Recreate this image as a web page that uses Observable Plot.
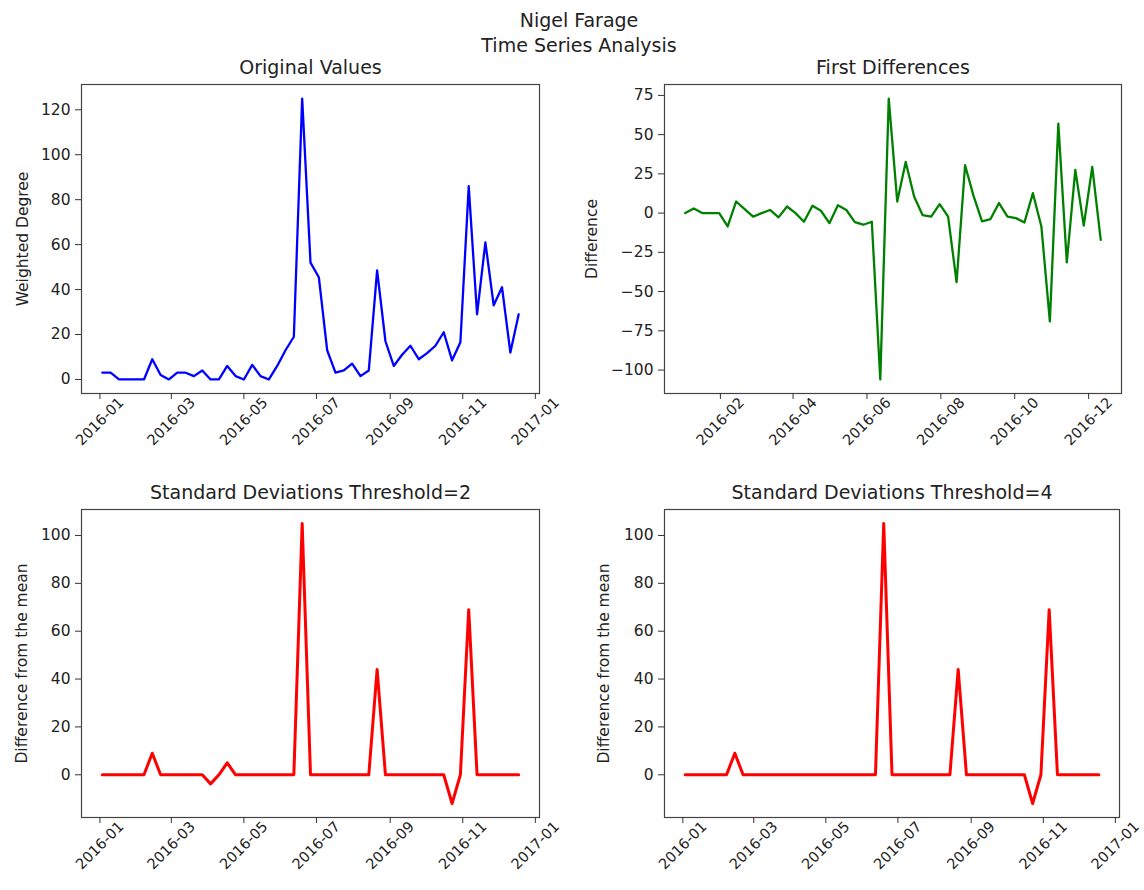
<!DOCTYPE html>
<html><head><meta charset="utf-8">
<script src="https://cdn.jsdelivr.net/npm/d3@7"></script>
<script src="https://cdn.jsdelivr.net/npm/@observablehq/plot@0.6"></script>
<style>
body{margin:0;background:#fff;}
#fig{position:relative;width:1144px;height:890px;font-family:"DejaVu Sans",sans-serif;color:#222;background:#fff;overflow:hidden;}
.sup{position:absolute;left:0;width:1158px;text-align:center;font-size:19px;line-height:24px;}
.panel{position:absolute;}
</style></head><body>
<div id="fig">
<div class="sup" style="top:8px">Nigel Farage</div>
<div class="sup" style="top:33px">Time Series Analysis</div>
</div>
<script>
// Weekly dates (Sundays) of the original series
const weeks = ["2016-01-03","2016-01-10","2016-01-17","2016-01-24","2016-01-31",
  "2016-02-07","2016-02-14","2016-02-21","2016-02-28",
  "2016-03-06","2016-03-13","2016-03-20","2016-03-27",
  "2016-04-03","2016-04-10","2016-04-17","2016-04-24",
  "2016-05-01","2016-05-08","2016-05-15","2016-05-22","2016-05-29",
  "2016-06-05","2016-06-12","2016-06-19","2016-06-26",
  "2016-07-03","2016-07-10","2016-07-17","2016-07-24","2016-07-31",
  "2016-08-07","2016-08-14","2016-08-21","2016-08-28",
  "2016-09-04","2016-09-11","2016-09-18","2016-09-25",
  "2016-10-02","2016-10-09","2016-10-16","2016-10-23","2016-10-30",
  "2016-11-06","2016-11-13","2016-11-20","2016-11-27",
  "2016-12-04","2016-12-11","2016-12-18"];
// Dates of the first-difference series (one fewer)
const diffWeeks = weeks.slice(0, 50);

const originalValues = [3,3,0,0,0,0,9,2,0,3,3,1.5,4,0,0,6,1.5,0,6.5,1.5,0,6,13,19,125,52,45.5,13,3,4,7,1.5,4,48.5,17,6,11,15,9,11.7,15,21,8.5,16.6,86,29,61,33,41,12,29];
const firstDifferences = [0,3,0,0,0,-8.5,7.4,2.5,-2.3,0,2,-2.7,4.2,0,-5.5,4.7,1.5,-6.4,5,2,-5.7,-7.4,-5.5,-106,73,7.4,32.6,10.4,-1.3,-2.3,5.7,-2.3,-44,30.5,11,-5.3,-3.8,6.4,-2.3,-3.2,-6,12.7,-8.5,-69,57,-31.4,27.5,-8,29.4,-17];
const threshold2 = [0,0,0,0,0,0,9,0,0,0,0,0,0,-3.8,0,5,0,0,0,0,0,0,0,0,105,0,0,0,0,0,0,0,0,44,0,0,0,0,0,0,0,0,-12,0,69,0,0,0,0,0,0];
const threshold4 = [0,0,0,0,0,0,9,0,0,0,0,0,0,0,0,0,0,0,0,0,0,0,0,0,105,0,0,0,0,0,0,0,0,44,0,0,0,0,0,0,0,0,-12,0,69,0,0,0,0,0,0];

const ticksOddMonths = ["2016-01-01","2016-03-01","2016-05-01","2016-07-01","2016-09-01","2016-11-01","2017-01-01"];
const ticksEvenMonths = ["2016-02-01","2016-04-01","2016-06-01","2016-08-01","2016-10-01","2016-12-01"];
const yTicksOriginal = [0,20,40,60,80,100,120];
const yTicksDiff = [-100,-75,-50,-25,0,25,50,75];
const yTicksThreshold = [0,20,40,60,80,100];

const titles = ["Original Values","First Differences","Standard Deviations Threshold=2","Standard Deviations Threshold=4"];
const yLabels = ["Weighted Degree","Difference","Difference from the mean","Difference from the mean"];

const fmt = d3.utcFormat("%Y-%m");
function padded(arr) {
  const [a, b] = d3.extent(arr, Number);
  const r = b - a;
  return [a - 0.05 * r, b + 0.05 * r];
}

function panel(o) {
  const dates = o.dates.map(d => new Date(d));
  const data = dates.map((d, i) => ({date: d, value: o.values[i]}));
  const xd = padded(dates);
  const plot = Plot.plot({
    width: o.w, height: o.h,
    marginLeft: o.mL, marginRight: o.mR, marginTop: o.mT, marginBottom: o.mB,
    style: {fontFamily: "DejaVu Sans, sans-serif", fontSize: "15.5px", color: "#222", background: "transparent", overflow: "visible"},
    x: {type: "utc", domain: [new Date(xd[0]), new Date(xd[1])]},
    y: {domain: padded(o.values)},
    marks: [
      Plot.line(data, {x: "date", y: "value", stroke: o.color, strokeWidth: o.sw, strokeLinejoin: "round"}),
      Plot.frame({stroke: "#444", strokeWidth: 1.2}),
      Plot.axisY({ticks: o.yTicks, tickSize: 6, tickPadding: 5, label: null, stroke: "#333"}),
      Plot.axisX({ticks: o.xTicks.map(d => new Date(d)), tickFormat: fmt, tickSize: 6, tickPadding: 22,
        tickRotate: -45, textAnchor: "middle", lineAnchor: "middle", fontSize: 14.5, label: null, stroke: "#333"}),
      Plot.text([o.title], {text: d => d, frameAnchor: "top", dy: -17, fontSize: 19, lineAnchor: "middle"}),
      Plot.text([o.ylabel], {text: d => d, frameAnchor: "left", dx: o.labelDx, rotate: -90, fontSize: 15.5, textAnchor: "middle", lineAnchor: "middle"})
    ]
  });
  plot.classList.add("panel");
  plot.style.left = o.left + "px";
  plot.style.top = o.top + "px";
  document.getElementById("fig").appendChild(plot);
}

panel({dates: weeks, values: originalValues, color: "#0000ff", sw: 2.3, title: titles[0], ylabel: yLabels[0],
  yTicks: yTicksOriginal, xTicks: ticksOddMonths, left: 0, top: 55, w: 572, h: 425, mL: 81, mR: 33, mT: 29, mB: 87, labelDx: -58});
panel({dates: diffWeeks, values: firstDifferences, color: "#008000", sw: 2.3, title: titles[1], ylabel: yLabels[1],
  yTicks: yTicksDiff, xTicks: ticksEvenMonths, left: 572, top: 55, w: 572, h: 425, mL: 92, mR: 23, mT: 29, mB: 87, labelDx: -72});
panel({dates: weeks, values: threshold2, color: "#ff0000", sw: 3, title: titles[2], ylabel: yLabels[2],
  yTicks: yTicksThreshold, xTicks: ticksOddMonths, left: 0, top: 480, w: 572, h: 410, mL: 81, mR: 33, mT: 29, mB: 73, labelDx: -59});
panel({dates: weeks, values: threshold4, color: "#ff0000", sw: 3, title: titles[3], ylabel: yLabels[3],
  yTicks: yTicksThreshold, xTicks: ticksOddMonths, left: 572, top: 480, w: 572, h: 410, mL: 92, mR: 25, mT: 29, mB: 73, labelDx: -60});
</script>
</body></html>
